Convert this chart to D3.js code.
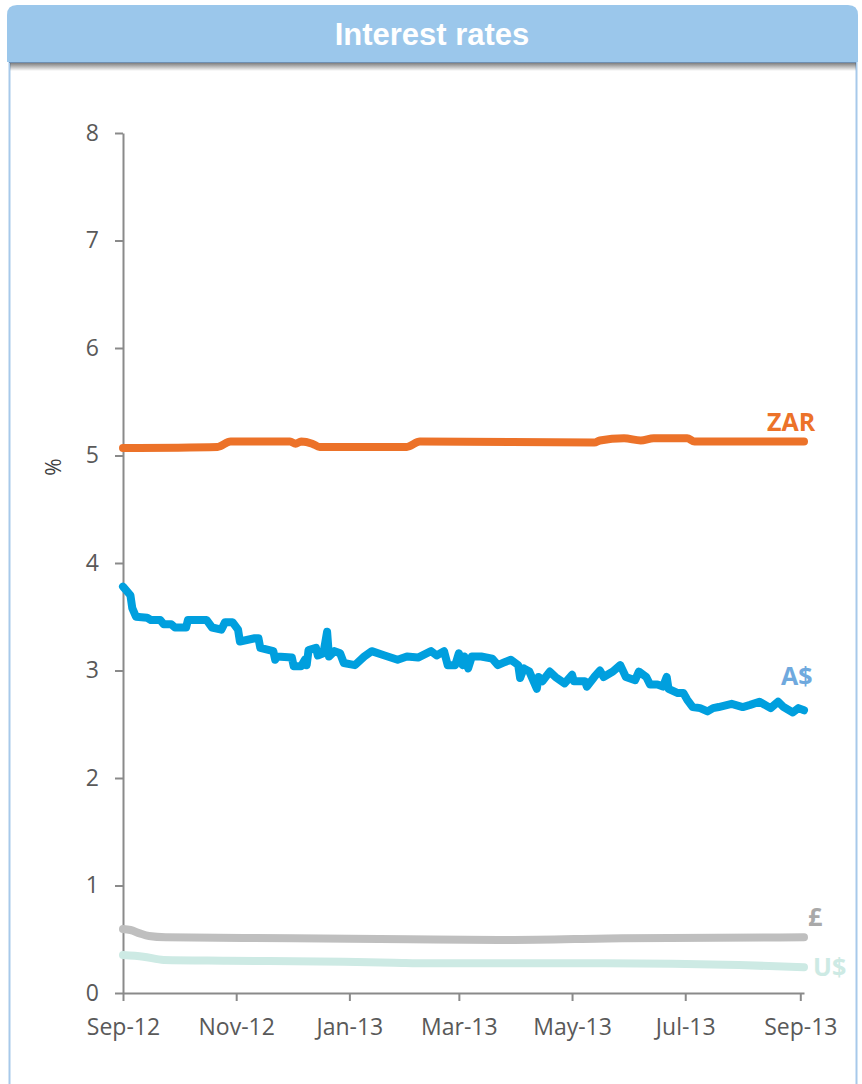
<!DOCTYPE html>
<html>
<head>
<meta charset="utf-8">
<script src="https://cdn.jsdelivr.net/npm/d3@7"></script>
<style>
  html, body { margin: 0; padding: 0; background: #fff; }
  svg { display: block; }
</style>
</head>
<body>
<script>
// Daily interest rates, Sep 2012 – Sep 2013 (%)
const zarRates = [
  ["2012-09-01", 5.07], ["2012-10-22", 5.08], ["2012-10-29", 5.13], ["2012-11-30", 5.13],
  ["2012-12-03", 5.11], ["2012-12-06", 5.13], ["2012-12-12", 5.11], ["2012-12-16", 5.08],
  ["2013-02-01", 5.08], ["2013-02-08", 5.13], ["2013-05-13", 5.12], ["2013-05-16", 5.14],
  ["2013-05-29", 5.16], ["2013-06-07", 5.14], ["2013-06-14", 5.16], ["2013-07-02", 5.16],
  ["2013-07-06", 5.13], ["2013-09-03", 5.13]
];

const audRates = [
  ["2012-09-01", 3.78], ["2012-09-05", 3.70], ["2012-09-06", 3.58], ["2012-09-08", 3.50],
  ["2012-09-14", 3.49], ["2012-09-16", 3.47], ["2012-09-21", 3.47], ["2012-09-23", 3.43],
  ["2012-09-27", 3.43], ["2012-09-29", 3.40], ["2012-10-05", 3.40], ["2012-10-06", 3.47],
  ["2012-10-16", 3.47], ["2012-10-19", 3.40], ["2012-10-24", 3.38], ["2012-10-26", 3.45],
  ["2012-10-30", 3.45], ["2012-11-02", 3.38], ["2012-11-03", 3.27], ["2012-11-11", 3.30],
  ["2012-11-13", 3.30], ["2012-11-14", 3.21], ["2012-11-21", 3.18], ["2012-11-22", 3.10],
  ["2012-11-23", 3.13], ["2012-12-01", 3.12], ["2012-12-02", 3.04], ["2012-12-06", 3.04],
  ["2012-12-08", 3.10], ["2012-12-09", 3.05], ["2012-12-10", 3.19], ["2012-12-14", 3.21],
  ["2012-12-15", 3.14], ["2012-12-18", 3.16], ["2012-12-20", 3.36], ["2012-12-21", 3.13],
  ["2012-12-24", 3.18], ["2012-12-27", 3.16], ["2012-12-29", 3.07], ["2013-01-04", 3.05],
  ["2013-01-09", 3.13], ["2013-01-13", 3.18], ["2013-01-20", 3.14], ["2013-01-27", 3.10],
  ["2013-02-01", 3.13], ["2013-02-07", 3.12], ["2013-02-14", 3.18], ["2013-02-17", 3.14],
  ["2013-02-21", 3.18], ["2013-02-23", 3.05], ["2013-02-27", 3.05], ["2013-03-01", 3.16],
  ["2013-03-03", 3.05], ["2013-03-04", 3.13], ["2013-03-06", 3.02], ["2013-03-08", 3.13],
  ["2013-03-13", 3.13], ["2013-03-19", 3.11], ["2013-03-22", 3.05], ["2013-03-26", 3.08],
  ["2013-03-29", 3.10], ["2013-04-02", 3.05], ["2013-04-03", 2.93], ["2013-04-05", 3.02],
  ["2013-04-08", 2.99], ["2013-04-12", 2.83], ["2013-04-13", 2.94], ["2013-04-15", 2.90],
  ["2013-04-19", 2.99], ["2013-04-22", 2.94], ["2013-04-27", 2.88], ["2013-05-01", 2.96],
  ["2013-05-02", 2.90], ["2013-05-08", 2.90], ["2013-05-09", 2.85], ["2013-05-13", 2.94],
  ["2013-05-16", 3.00], ["2013-05-18", 2.94], ["2013-05-23", 2.99], ["2013-05-27", 3.05],
  ["2013-05-30", 2.94], ["2013-06-04", 2.91], ["2013-06-06", 2.99], ["2013-06-10", 2.94],
  ["2013-06-12", 2.87], ["2013-06-16", 2.87], ["2013-06-19", 2.85], ["2013-06-21", 2.94],
  ["2013-06-22", 2.83], ["2013-06-27", 2.79], ["2013-06-30", 2.79], ["2013-07-02", 2.73],
  ["2013-07-05", 2.66], ["2013-07-09", 2.65], ["2013-07-13", 2.62], ["2013-07-16", 2.65],
  ["2013-07-19", 2.66], ["2013-07-26", 2.69], ["2013-08-01", 2.66], ["2013-08-05", 2.68],
  ["2013-08-10", 2.71], ["2013-08-16", 2.65], ["2013-08-20", 2.71], ["2013-08-23", 2.66],
  ["2013-08-28", 2.61], ["2013-08-31", 2.65], ["2013-09-03", 2.63]
];

const gbpRates = [
  ["2012-09-01", 0.595], ["2012-09-05", 0.586], ["2012-09-10", 0.555], ["2012-09-15", 0.530],
  ["2012-09-24", 0.518], ["2012-12-02", 0.509], ["2013-02-02", 0.500], ["2013-03-26", 0.493],
  ["2013-05-28", 0.509], ["2013-09-03", 0.518]
];

const usdRates = [
  ["2012-09-01", 0.353], ["2012-09-12", 0.338], ["2012-09-23", 0.307], ["2012-10-27", 0.300],
  ["2012-12-29", 0.290], ["2013-01-25", 0.282], ["2013-02-12", 0.276], ["2013-05-19", 0.276],
  ["2013-07-30", 0.260], ["2013-09-03", 0.240]
];

const seriesNames = ["ZAR", "A$", "£", "U$"];
const yTicks = [0, 1, 2, 3, 4, 5, 6, 7, 8];
const titleText = "Interest rates";
const yAxisTitle = "%";

const W = 862, H = 1084;
const parse = d3.timeParse("%Y-%m-%d");
const toPoints = arr => arr.map(([d, v]) => ({ date: parse(d), value: v }));

const series = [
  { name: seriesNames[0], pts: toPoints(zarRates), color: "#EC7229", label: "#EC7229", curve: d3.curveMonotoneX, dx: -37, dy: -11 },
  { name: seriesNames[1], pts: toPoints(audRates), color: "#009FDE", label: "#6FA9DE", curve: d3.curveLinear,     dx: -23, dy: -25 },
  { name: seriesNames[2], pts: toPoints(gbpRates), color: "#BFBFBF", label: "#A9A9A9", curve: d3.curveMonotoneX, dx: 4,   dy: -11 },
  { name: seriesNames[3], pts: toPoints(usdRates), color: "#CDEAE4", label: "#CDEAE4", curve: d3.curveMonotoneX, dx: 9,   dy: 9 }
];

const svg = d3.select("body").append("svg").attr("width", W).attr("height", H);

// ----- panel frame and title bar -----
const defs = svg.append("defs");
const sh = defs.append("linearGradient").attr("id", "hdrShadow")
  .attr("x1", 0).attr("y1", 0).attr("x2", 0).attr("y2", 1);
sh.append("stop").attr("offset", "0%").attr("stop-color", "#000").attr("stop-opacity", 0.5);
sh.append("stop").attr("offset", "100%").attr("stop-color", "#000").attr("stop-opacity", 0);

svg.append("rect").attr("x", 9.5).attr("y", 62).attr("width", 847).attr("height", 1040)
  .attr("fill", "#fff").attr("stroke", "#A7C9EA").attr("stroke-width", 2);

svg.append("rect").attr("x", 10).attr("y", 63).attr("width", 846).attr("height", 8)
  .attr("fill", "url(#hdrShadow)");

const hx0 = 7, hx1 = 858, hy0 = 5, hy1 = 62, r = 10;
svg.append("path")
  .attr("d", `M${hx0},${hy1} L${hx0},${hy0 + r} Q${hx0},${hy0} ${hx0 + r},${hy0} L${hx1 - r},${hy0} Q${hx1},${hy0} ${hx1},${hy0 + r} L${hx1},${hy1} Z`)
  .attr("fill", "#9BC7EB");
svg.append("line").attr("x1", hx0 + 2).attr("x2", hx1 - 2).attr("y1", 62.5).attr("y2", 62.5)
  .attr("stroke", "#6E8FB2").attr("stroke-width", 1);

svg.append("text")
  .attr("x", 432).attr("y", 45)
  .attr("text-anchor", "middle")
  .attr("font-family", "'Liberation Sans', Arial, sans-serif")
  .attr("font-weight", "bold").attr("font-size", 31)
  .attr("fill", "#fff")
  .text(titleText);

// ----- scales -----
const x = d3.scaleTime()
  .domain([parse("2012-09-01"), parse("2013-09-03")])
  .range([123, 804]);
const y = d3.scaleLinear().domain([0, 8]).range([993, 133]);

const axisColor = "#8A8A8A", textColor = "#595959";
const axisFont = "'Open Sans', 'Noto Sans', sans-serif";

// y axis
const gy = svg.append("g").attr("transform", `translate(${x.range()[0]},0)`)
  .call(d3.axisLeft(y).tickValues(yTicks).tickFormat(d3.format("d"))
    .tickSize(8).tickSizeOuter(0).tickPadding(16));
gy.select(".domain").attr("stroke", axisColor).attr("stroke-width", 2);
gy.selectAll(".tick line").attr("stroke", axisColor).attr("stroke-width", 2);
gy.selectAll(".tick text").attr("fill", textColor).attr("font-family", axisFont).attr("font-size", 23);

// x axis
const gx = svg.append("g").attr("transform", `translate(0,${y(0)})`)
  .call(d3.axisBottom(x).ticks(d3.timeMonth.every(2)).tickFormat(d3.timeFormat("%b-%y"))
    .tickSize(8).tickSizeOuter(0).tickPadding(18));
gx.select(".domain").attr("stroke", axisColor).attr("stroke-width", 2);
gx.selectAll(".tick line").attr("stroke", axisColor).attr("stroke-width", 2);
gx.selectAll(".tick text").attr("fill", textColor).attr("font-family", axisFont).attr("font-size", 23);

// y axis title
svg.append("text")
  .attr("transform", "translate(61,467) rotate(-90)")
  .attr("text-anchor", "middle")
  .attr("font-family", axisFont).attr("font-size", 21)
  .attr("fill", "#404040")
  .text(yAxisTitle);

// ----- series lines -----
const plot = svg.append("g");
series.forEach(s => {
  const line = d3.line().x(d => x(d.date)).y(d => y(d.value)).curve(s.curve);
  plot.append("path")
    .datum(s.pts)
    .attr("d", line)
    .attr("fill", "none")
    .attr("stroke", s.color)
    .attr("stroke-width", 8)
    .attr("stroke-linejoin", "round")
    .attr("stroke-linecap", "round");
});

// ----- end labels -----
series.forEach(s => {
  const last = s.pts[s.pts.length - 1];
  svg.append("text")
    .attr("x", x(last.date) + s.dx)
    .attr("y", y(last.value) + s.dy)
    .attr("font-family", axisFont).attr("font-weight", "bold").attr("font-size", 25)
    .attr("fill", s.label)
    .text(s.name);
});
</script>
</body>
</html>
